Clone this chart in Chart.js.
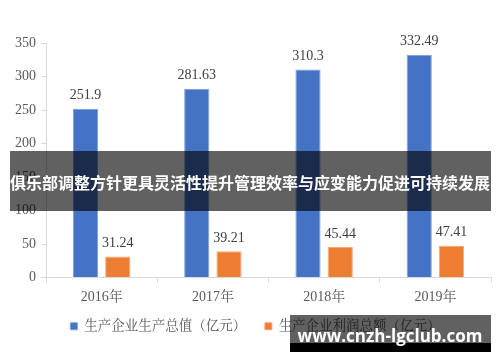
<!DOCTYPE html>
<html>
<head>
<meta charset="utf-8">
<script src="https://cdn.jsdelivr.net/npm/chart.js@4"></script>
<style>
  html, body { margin: 0; padding: 0; background: #fff; }
  #wrap { width: 500px; height: 362px; }
</style>
</head>
<body>
<div id="wrap"><canvas id="myChart" width="500" height="362"></canvas></div>
<script>
const years = ["2016年", "2017年", "2018年", "2019年"];
const outputValues = [251.9, 281.63, 310.3, 332.49];
const profitValues = [31.24, 39.21, 45.44, 47.41];
const seriesNames = ["生产企业生产总值（亿元）", "生产企业利润总额（亿元）"];
const bannerText = "俱乐部调整方针更具灵活性提升管理效率与应变能力促进可持续发展";
const watermarkText = "www.cnzh-lgclub.com";

const serif = "'Liberation Serif', 'Noto Serif CJK SC', 'Noto Sans CJK SC', serif";

// value labels above each bar
const barLabels = {
  id: "barLabels",
  afterDatasetsDraw(chart) {
    const ctx = chart.ctx;
    ctx.save();
    ctx.font = "14px " + serif;
    ctx.fillStyle = "#404040";
    ctx.textAlign = "center";
    ctx.textBaseline = "bottom";
    chart.data.datasets.forEach((ds, i) => {
      chart.getDatasetMeta(i).data.forEach((bar, j) => {
        ctx.fillText(String(ds.data[j]), bar.x, bar.y - 6);
      });
    });
    ctx.restore();
  }
};

// legend sits a little right of centre in the original
const legendShift = {
  id: "legendShift",
  afterLayout(chart) {
    chart.legend.left += 20;
  }
};

// the grey banner and the watermark sitting over the picture
const overlays = {
  id: "overlays",
  afterDraw(chart) {
    const ctx = chart.ctx;
    ctx.save();
    ctx.fillStyle = "rgba(0,0,0,0.62)";
    ctx.fillRect(10, 151, 481, 60);
    ctx.fillStyle = "#fff";
    ctx.font = "bold 16px 'Noto Sans CJK SC'";
    ctx.textAlign = "center";
    ctx.textBaseline = "middle";
    ctx.fillText(bannerText, 250, 183);

    ctx.fillStyle = "rgba(0,0,0,0.62)";
    ctx.fillRect(290, 315, 201, 28);
    ctx.fillStyle = "#000";
    ctx.fillRect(290, 343, 201, 9);
    ctx.fillStyle = "#fff";
    ctx.font = "bold 17px 'Open Sans'";
    ctx.textBaseline = "alphabetic";
    ctx.fillText(watermarkText, 390, 342);
    ctx.restore();
  }
};

new Chart("myChart", {
  type: "bar",
  data: {
    labels: years,
    datasets: [{
      label: seriesNames[0],
      data: outputValues,
      backgroundColor: "#4472c4",
      borderColor: "#7f9fd8",
      borderWidth: 1,
      categoryPercentage: 0.58,
      barPercentage: 0.78
    }, {
      label: seriesNames[1],
      data: profitValues,
      backgroundColor: "#ed7d31",
      borderColor: "#f4a774",
      borderWidth: 1,
      categoryPercentage: 0.58,
      barPercentage: 0.78
    }]
  },
  options: {
    responsive: false,
    animation: false,
    layout: { padding: { top: 43, right: 9, left: 0, bottom: 19 } },
    plugins: {
      legend: {
        position: "bottom",
        labels: {
          boxWidth: 7,
          boxHeight: 7,
          color: "#595959",
          font: { size: 13.5, family: serif },
          padding: 12,
          generateLabels(chart) {
            const items = Chart.defaults.plugins.legend.labels.generateLabels(chart);
            // wider gap between the two entries, as in the original
            items[0].text += "\u3000";
            return items;
          }
        }
      },
      tooltip: { enabled: false },
      title: { display: false }
    },
    scales: {
      x: {
        grid: { drawOnChartArea: false, tickLength: 5, color: "#d9d9d9" },
        border: { color: "#d9d9d9" },
        ticks: { color: "#595959", font: { size: 14, family: serif }, padding: 6 },
        afterFit(scale) { scale.height = 30; }
      },
      y: {
        min: 0,
        max: 350,
        ticks: { stepSize: 50, color: "#595959", font: { size: 14, family: serif }, padding: 5 },
        grid: { drawOnChartArea: false, tickLength: 5, color: "#d9d9d9" },
        border: { color: "#d9d9d9" },
        afterFit(scale) { scale.width = 46; }
      }
    }
  },
  plugins: [barLabels, legendShift, overlays]
});
</script>
</body>
</html>
